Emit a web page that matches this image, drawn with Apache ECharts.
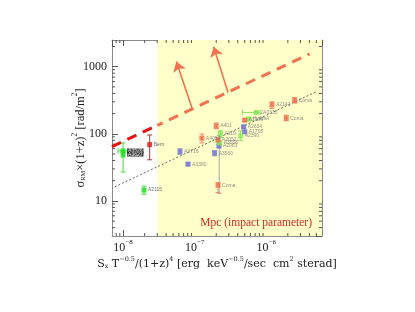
<!DOCTYPE html>
<html><head><meta charset="utf-8">
<script src="https://cdn.jsdelivr.net/npm/echarts@6/dist/echarts.min.js"></script>
<style>html,body{margin:0;padding:0;background:#fff}#c{width:415px;height:312px}</style>
</head><body><div id="c"></div>
<script>
// ---- axis ranges ----
const X_MIN = 7e-9, X_MAX = 6e-6, Y_MIN = 3, Y_MAX = 2500;
const YELLOW_FROM = 3e-8;
const xMinorTicks = [8e-9,9e-9,2e-8,3e-8,4e-8,5e-8,6e-8,7e-8,8e-8,9e-8,2e-7,3e-7,4e-7,5e-7,6e-7,7e-7,8e-7,9e-7,2e-6,3e-6,4e-6,5e-6];
const yMinorTicks = [4,5,6,7,8,9,20,30,40,50,60,70,80,90,200,300,400,500,600,700,800,900,2000];

// ---- red/orange points inside the shaded region ----
const redNames = ['A401','A4059','A2052','Coma','A2142','Coma','Coma','A2199'];
const redX  = [2.0e-7, 1.26e-7, 2.12e-7, 2.12e-7, 1.2e-6, 2.49e-6, 1.9e-6, 5.0e-7];
const redY  = [131, 86, 81, 17.1, 271, 314, 171, 160];
const redLo = [119, 73, 76, 13.3, 239, 287, 156, 152];
const redHi = [145, 99, 87, 18.7, 300, 348, 190, 168];

// ---- red point outside the shaded region ----
const bernNames = ['Bern'];
const bernX  = [2.35e-8];
const bernY  = [69];
const bernLo = [41];
const bernHi = [96];

// ---- green points ----
const greenNames = ['A119','A3558','2A0335','HydraA','A2390'];
const greenX  = [2.29e-7, 2.23e-7, 7.26e-7, 5.68e-7, 4.39e-7];
const greenY  = [101, 73, 208, 166, 93];
const greenLo = [88, 68, 200, 160, 79];
const greenHi = [111, 78, 216, 172, 111];
const greenXLo = [null, null, 4.64e-7, null, null];
const greenXHi = [null, null, 8.2e-7, null, null];

const greenBoxNames = ['A3526','A3627'];
const greenBoxX  = [1e-8, 1e-8];
const greenBoxY  = [55.7, 49.8];
const greenBoxLo = [27, 45];
const greenBoxHi = [73, 56];
const greenBoxXLo = [8.5e-9, null];
const greenBoxXHi = [1.17e-8, null];

const greenOutNames = ['A2115'];
const greenOutX  = [1.96e-8];
const greenOutY  = [14.5];
const greenOutLo = [12.6];
const greenOutHi = [16.6];

// ---- blue points ----
const blueNames = ['A3716','A3380','A3560','A2063','A2634','A1795'];
const blueX  = [6.24e-8, 8.07e-8, 1.9e-7, 2.18e-7, 4.83e-7, 5.0e-7];
const blueY  = [54.4, 35.3, 51.5, 66, 127, 107];
const blueLo = [49.5, 33.5, 47, 62, 120, 102];
const blueHi = [60, 37, 56, 70, 134, 112];

// long grey error bar
const greyBarX = [2.2e-7], greyBarLo = [13], greyBarHi = [95];

// ---- lines ----
const limitRedX = [7e-9, 3e-8], limitRedY = [64.3, 133.7];
const limitOrX = [3e-8, 4.03e-6], limitOrY = [133.7, 1550];
const fitX = [7.65e-9, 4.99e-6], fitY = [16.2, 424];
const arrowFromX = [9.27e-8, 2.92e-7], arrowFromY = [235, 414];
const arrowToX = [5.54e-8, 1.84e-7], arrowToY = [1200, 1990];

const SERIF = "'Liberation Serif','DejaVu Serif',serif";

function zip2(a, b) { return a.map((v, i) => [v, b[i]]); }
function pts(names, xs, ys) { return names.map((n, i) => ({ name: n, value: [xs[i], ys[i]] })); }

function vErr(color, cw) {
  return function (params, api) {
    const x = api.value(0), lo = api.value(1), hi = api.value(2);
    const a = api.coord([x, lo]), b = api.coord([x, hi]);
    const st = { stroke: color, lineWidth: 1 };
    return { type: 'group', children: [
      { type: 'line', shape: { x1: a[0], y1: a[1], x2: b[0], y2: b[1] }, style: st },
      { type: 'line', shape: { x1: a[0] - cw, y1: a[1], x2: a[0] + cw, y2: a[1] }, style: st },
      { type: 'line', shape: { x1: b[0] - cw, y1: b[1], x2: b[0] + cw, y2: b[1] }, style: st }
    ]};
  };
}
function hErr(color, cw) {
  return function (params, api) {
    const y = api.value(0), lo = api.value(1), hi = api.value(2);
    const a = api.coord([lo, y]), b = api.coord([hi, y]);
    const st = { stroke: color, lineWidth: 1 };
    return { type: 'group', children: [
      { type: 'line', shape: { x1: a[0], y1: a[1], x2: b[0], y2: b[1] }, style: st },
      { type: 'line', shape: { x1: a[0], y1: a[1] - cw, x2: a[0], y2: a[1] + cw }, style: st },
      { type: 'line', shape: { x1: b[0], y1: b[1] - cw, x2: b[0], y2: b[1] + cw }, style: st }
    ]};
  };
}
function vErrSeries(xs, lo, hi, color, z) {
  return { type: 'custom', z: z, renderItem: vErr(color, 2.5), encode: { x: 0, y: [1, 2] },
    data: xs.map((x, i) => [x, lo[i], hi[i]]), silent: true };
}
function hErrSeries(ys, lo, hi, color, z) {
  const d = [];
  ys.forEach((y, i) => { if (lo[i] != null) d.push([y, lo[i], hi[i]]); });
  return { type: 'custom', z: z, renderItem: hErr(color, 2.5), encode: { y: 0, x: [1, 2] },
    data: d, silent: true };
}
function scatter(names, xs, ys, color, labelStyle, z) {
  return { type: 'scatter', z: z, symbol: 'rect', symbolSize: 5,
    itemStyle: { color: color }, data: pts(names, xs, ys),
    labelLayout: { hideOverlap: false },
    label: Object.assign({ show: true, position: 'right', distance: 1.5, formatter: '{b}',
      fontSize: 5, color: '#777', fontFamily: 'Arial, sans-serif' }, labelStyle || {}) };
}

function isPow10(v) { const l = Math.log10(v); return Math.abs(l - Math.round(l)) < 1e-6; }

const sup = { fontSize: 7, fontFamily: SERIF, color: '#222', verticalAlign: 'top', lineHeight: 9 };
const main = { fontSize: 12, fontFamily: SERIF, color: '#222', lineHeight: 15, verticalAlign: 'bottom' };

const chart = echarts.init(document.getElementById('c'), null, { renderer: 'canvas' });
const axisCommon = {
  type: 'log', logBase: 10,
  axisLine: { show: true, lineStyle: { color: '#8a8a8a', width: 1 } },
  axisTick: { show: true, inside: true, length: 6, lineStyle: { color: '#555', width: 1 } },
  splitLine: { show: false },
  minorTick: { show: false }
};

chart.setOption({
  animation: false,
  backgroundColor: '#fff',
  grid: { left: 112, right: 93, top: 40, bottom: 76, containLabel: false },
  xAxis: [
    Object.assign({}, axisCommon, {
      min: X_MIN, max: X_MAX, position: 'bottom',
      axisLabel: { margin: 3, showMinLabel: false, showMaxLabel: false,
        formatter: v => isPow10(v) ? '{m|10}{s|\u2212' + Math.abs(Math.round(Math.log10(v))) + '}' : '',
        rich: { m: main, s: sup } },
      name: '{m|S}{b|x}{m| T}{s|\u22120.5}{m|/(1+z)}{s|4}{m| [erg  keV}{s|\u22120.5}{m|/sec  cm}{s|2}{m| sterad]}',
      nameLocation: 'middle', nameGap: 20, nameMoveOverlap: false,
      nameTextStyle: { rich: {
        m: { fontSize: 11, fontFamily: "'DejaVu Serif',serif", color: '#222', lineHeight: 14, verticalAlign: 'bottom' },
        s: { fontSize: 6.5, fontFamily: "'DejaVu Serif',serif", color: '#222', lineHeight: 8, verticalAlign: 'top' },
        b: { fontSize: 6.5, fontFamily: "'DejaVu Serif',serif", color: '#222', lineHeight: 10, verticalAlign: 'bottom' }
      } }
    }),
    Object.assign({}, axisCommon, { min: X_MIN, max: X_MAX, position: 'top', axisLabel: { show: false } })
  ],
  yAxis: [
    Object.assign({}, axisCommon, {
      min: Y_MIN, max: Y_MAX, position: 'left',
      axisLabel: { margin: 5, showMinLabel: false, showMaxLabel: false,
        formatter: v => isPow10(v) ? String(Math.round(v)) : '',
        fontSize: 12, fontFamily: SERIF, color: '#222' },
      name: '{m|\u03c3}{b|RM}{m|\u00d7(1+z)}{s|2}{m| [rad/m}{s|2}{m|]}',
      nameLocation: 'middle', nameRotate: 90, nameGap: 25, nameMoveOverlap: false,
      nameTextStyle: { rich: {
        m: { fontSize: 12.5, fontFamily: SERIF, color: '#222', lineHeight: 16, verticalAlign: 'bottom' },
        s: { fontSize: 7.5, fontFamily: SERIF, color: '#222', lineHeight: 10, verticalAlign: 'top' },
        b: { fontSize: 6.5, fontFamily: SERIF, color: '#222', lineHeight: 11, verticalAlign: 'bottom' }
      } }
    }),
    Object.assign({}, axisCommon, { min: Y_MIN, max: Y_MAX, position: 'right', axisLabel: { show: false } })
  ],
  graphic: [{
    type: 'text', right: 103, top: 217, z: 100,
    style: { text: 'Mpc (impact parameter)', fontSize: 11.5, fontFamily: SERIF, fill: '#d42a20' }
  }],
  series: [
    { type: 'line', z: 1, data: zip2(fitX, fitY), symbol: 'none', silent: true,
      lineStyle: { color: '#444', width: 0.8, type: [2, 2] },
      markArea: { silent: true, itemStyle: { color: '#ffffca' },
        data: [[{ xAxis: YELLOW_FROM, yAxis: Y_MIN }, { xAxis: X_MAX, yAxis: Y_MAX }]] } },
    { type: 'custom', z: 3, silent: true, data: xMinorTicks.map(v => [v]), encode: { x: 0 },
      renderItem: (p, api) => {
        const v = api.value(0); const a = api.coord([v, Y_MIN]), b = api.coord([v, Y_MAX]);
        const st = { stroke: '#555', lineWidth: 1 };
        return { type: 'group', children: [
          { type: 'line', shape: { x1: a[0], y1: a[1], x2: a[0], y2: a[1] - 3 }, style: st },
          { type: 'line', shape: { x1: b[0], y1: b[1], x2: b[0], y2: b[1] + 3 }, style: st }] };
      } },
    { type: 'custom', z: 3, silent: true, data: yMinorTicks.map(v => [X_MIN, v]), encode: { x: 0, y: 1 },
      renderItem: (p, api) => {
        const v = api.value(1); const a = api.coord([X_MIN, v]), b = api.coord([X_MAX, v]);
        const st = { stroke: '#555', lineWidth: 1 };
        return { type: 'group', children: [
          { type: 'line', shape: { x1: a[0], y1: a[1], x2: a[0] + 3, y2: a[1] }, style: st },
          { type: 'line', shape: { x1: b[0], y1: b[1], x2: b[0] - 3, y2: b[1] }, style: st }] };
      } },
    vErrSeries(greyBarX, greyBarLo, greyBarHi, '#a8a8a8', 4),
    vErrSeries(redX, redLo, redHi, '#ea8a70', 5),
    vErrSeries(bernX, bernLo, bernHi, '#a83a3a', 5),
    vErrSeries(greenX, greenLo, greenHi, '#8ee070', 5),
    hErrSeries(greenY, greenXLo, greenXHi, '#8ee070', 5),
    vErrSeries(greenBoxX, greenBoxLo, greenBoxHi, '#44dd44', 5),
    hErrSeries(greenBoxY, greenBoxXLo, greenBoxXHi, '#44dd44', 5),
    vErrSeries(greenOutX, greenOutLo, greenOutHi, '#44dd44', 5),
    vErrSeries(blueX, blueLo, blueHi, '#9a9ad8', 5),
    scatter(blueNames, blueX, blueY, '#7070d2', {}, 6),
    scatter(greenNames, greenX, greenY, '#86e858', {}, 6),
    scatter(redNames, redX, redY, '#f06a4a', {}, 6),
    scatter(bernNames, bernX, bernY, '#e01414', { color: '#444' }, 6),
    scatter(greenBoxNames, greenBoxX, greenBoxY, '#22dd22',
      { color: '#fff', backgroundColor: '#222', padding: [0, 1] }, 6),
    scatter(greenOutNames, greenOutX, greenOutY, '#22dd22', { color: '#555' }, 6),
    { type: 'line', z: 8, data: zip2(limitRedX, limitRedY), symbol: 'none', silent: true,
      lineStyle: { color: '#e41414', width: 3, type: [10, 7] } },
    { type: 'line', z: 8, data: zip2(limitOrX, limitOrY), symbol: 'none', silent: true,
      lineStyle: { color: '#f3714f', width: 3, type: [10, 7], dashOffset: 4 } },
    { type: 'lines', coordinateSystem: 'cartesian2d', z: 9, silent: true,
      symbol: ['none', 'arrow'], symbolSize: [7, 10],
      lineStyle: { color: '#f3714f', width: 1.6, opacity: 1 },
      data: arrowFromX.map((x, i) => ({ coords: [[x, arrowFromY[i]], [arrowToX[i], arrowToY[i]]] })) }
  ]
});
</script></body></html>
